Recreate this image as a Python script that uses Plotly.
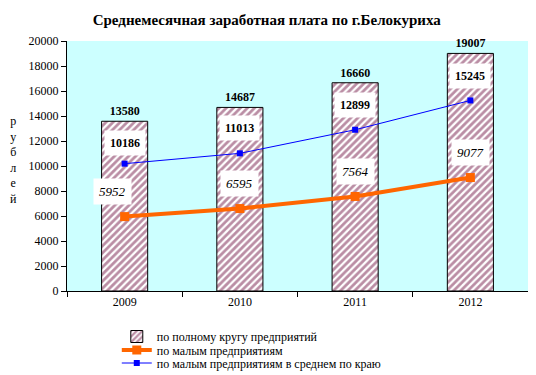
import plotly.graph_objects as go

years = ["2009", "2010", "2011", "2012"]
full_circle = [13580, 14687, 16660, 19007]
small_ent = [5952, 6595, 7564, 9077]
small_region = [10186, 11013, 12899, 15245]

FONT = "Liberation Serif, Times New Roman, serif"
W, H = 528, 367  # page body adds an 8px offset; 536x375 window

fig = go.Figure()
fig.add_trace(go.Bar(
    x=years, y=full_circle, name="по полному кругу предприятий",
    width=0.4, legend="legend",
    marker=dict(color="white", line=dict(color="black", width=1),
                pattern=dict(shape="/", fgcolor="#761C4A", bgcolor="white", size=5, solidity=0.55)),
    text=[f"<b>{v}</b>" for v in full_circle], textposition="outside",
    textfont=dict(family=FONT, size=12, color="black"), cliponaxis=False,
))
fig.add_trace(go.Scatter(
    x=years, y=small_ent, name="по малым предприятиям", mode="lines+markers", legend="legend2",
    line=dict(color="#FF6600", width=4), marker=dict(symbol="square", size=9, color="#FF6600"),
))
fig.add_trace(go.Scatter(
    x=years, y=small_region, name="по малым предприятиям в среднем по краю", mode="lines+markers",
    legend="legend3",
    line=dict(color="#0000FF", width=1), marker=dict(symbol="square", size=6, color="#0000FF"),
))

ann = []
xshift_orange = [-12, 0, 0, 0]
for i, v in enumerate(small_ent):
    ann.append(dict(x=i, y=v, xref="x", yref="y", text=f"<i>{v}</i>", showarrow=False,
                    yshift=25, xshift=xshift_orange[i],
                    bgcolor="white", font=dict(family=FONT, size=13, color="black"), borderpad=5))
yshift_blue = [21, 25, 25, 24]
for i, v in enumerate(small_region):
    ann.append(dict(x=i, y=v, xref="x", yref="y", text=f"<b>{v}</b>", showarrow=False,
                    yshift=yshift_blue[i],
                    bgcolor="white", font=dict(family=FONT, size=12, color="black"), borderpad=5))
ann.append(dict(xref="paper", yref="paper", x=-0.115, y=0.525, text="р<br>у<br>б<br>л<br>е<br>й",
                showarrow=False, font=dict(family=FONT, size=12, color="black"), xanchor="center",
                yanchor="middle"))

leg_common = dict(x=0.108, xanchor="left", yanchor="middle", xref="paper", yref="container",
                  font=dict(family=FONT, size=12, color="black"), bgcolor="rgba(0,0,0,0)",
                  borderwidth=0)

fig.update_layout(
    width=W, height=H,
    margin=dict(l=59, r=8, t=33, b=84),
    paper_bgcolor="white", plot_bgcolor="#CCFFFF",
    title=dict(text="<b>Среднемесячная заработная плата по г.Белокуриха</b>",
               x=0.49, xanchor="center", y=1 - 12 / H, yanchor="middle",
               font=dict(family=FONT, size=15, color="black")),
    font=dict(family=FONT, size=12, color="black"),
    showlegend=True,
    legend=dict(y=1 - 328.5 / H, **leg_common),
    legend2=dict(y=1 - 342 / H, **leg_common),
    legend3=dict(y=1 - 355 / H, **leg_common),
    annotations=ann,
)
fig.update_xaxes(type="category", range=[-0.5, 3.5], tickson="boundaries", ticks="outside", ticklen=5,
                 tickcolor="black", showline=True, linecolor="black", linewidth=1,
                 showgrid=False, tickfont=dict(family=FONT, size=12), tickangle=0)
fig.update_yaxes(range=[0, 20000], dtick=2000, tickformat="d", ticks="outside", ticklen=5, tickcolor="black",
                 showline=True, linecolor="black", linewidth=1, showgrid=False, zeroline=False,
                 tickfont=dict(family=FONT, size=12))

fig.write_html("out.html")
